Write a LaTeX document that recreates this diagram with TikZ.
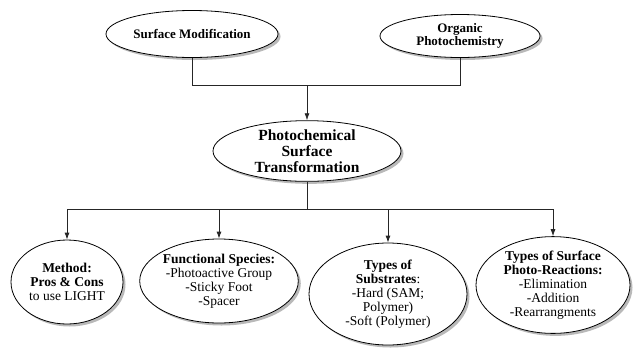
\documentclass[tikz,border=0pt]{standalone}
\usepackage{fontspec}
\setmainfont{Liberation Serif}
\usepackage{tikz}
\usetikzlibrary{shapes.geometric,shadows,arrows.meta}
\tikzstyle{chart}=[
  x=1pt,y=-1pt,>={Latex[length=7pt,width=5pt]},line width=0.8pt
]
\tikzstyle{topic}=[
  draw,ellipse,inner sep=0pt,fill=white,align=center,
  drop shadow={shadow xshift=2.5pt,shadow yshift=-2.5pt,fill=black!55}
]
\tikzstyle{topfont}=[
  font=\fontsize{13}{13}\selectfont\bfseries
]
\tikzstyle{midfont}=[
  font=\fontsize{15.5}{16}\selectfont\bfseries
]
\tikzstyle{lowfont}=[
  font=\fontsize{13.5}{14}\selectfont
]
\tikzstyle{link}=[
  draw=black!85
]

\begin{document}
\begin{tikzpicture}[chart]
  \useasboundingbox (0,0) rectangle (637,349);
  \node (surfmod) at (192,34) [topic,topfont,minimum width=172pt,minimum height=47pt] {Surface Modification};
  \node (orgphoto) at (460,36) [topic,topfont,minimum width=160pt,minimum height=43pt] {Organic\\Photochemistry};
  \node (pst) at (307,151) [topic,midfont,minimum width=188pt,minimum height=60pt] {Photochemical\\Surface\\Transformation};
  \node (method) at (67,282) [topic,lowfont,minimum width=112pt,minimum height=84pt] {\textbf{Method:}\\\textbf{Pros \& Cons}\\to use LIGHT};
  \node (species) at (219,281) [topic,lowfont,minimum width=148pt,minimum height=84pt] {\textbf{Functional Species:}\\-Photoactive Group\\-Sticky Foot\\-Spacer};
  \node (substr) at (388,294) [topic,lowfont,minimum width=158pt,minimum height=102pt] {\textbf{Types of}\\\textbf{Substrates}:\\-Hard (SAM;\\Polymer)\\-Soft (Polymer)};
  \node (react) at (553,285) [topic,lowfont,minimum width=154pt,minimum height=86pt] {\textbf{Types of Surface}\\\textbf{Photo-Reactions:}\\-Elimination\\-Addition\\-Rearrangments};
  \coordinate (merge) at (307,85);
  \coordinate (split) at (307,209);
  \draw [link] (surfmod.south) |- (merge);
  \draw [link] (orgphoto.south) |- (merge);
  \draw [link,->] (merge) -- (pst.north);
  \draw [link] (pst.south) -- (split);
  \draw [link,->] (split) -| (method.north);
  \draw [link,->] (split) -| (species.north);
  \draw [link,->] (split) -| (substr.north);
  \draw [link,->] (split) -| (react.north);
\end{tikzpicture}
\end{document}
